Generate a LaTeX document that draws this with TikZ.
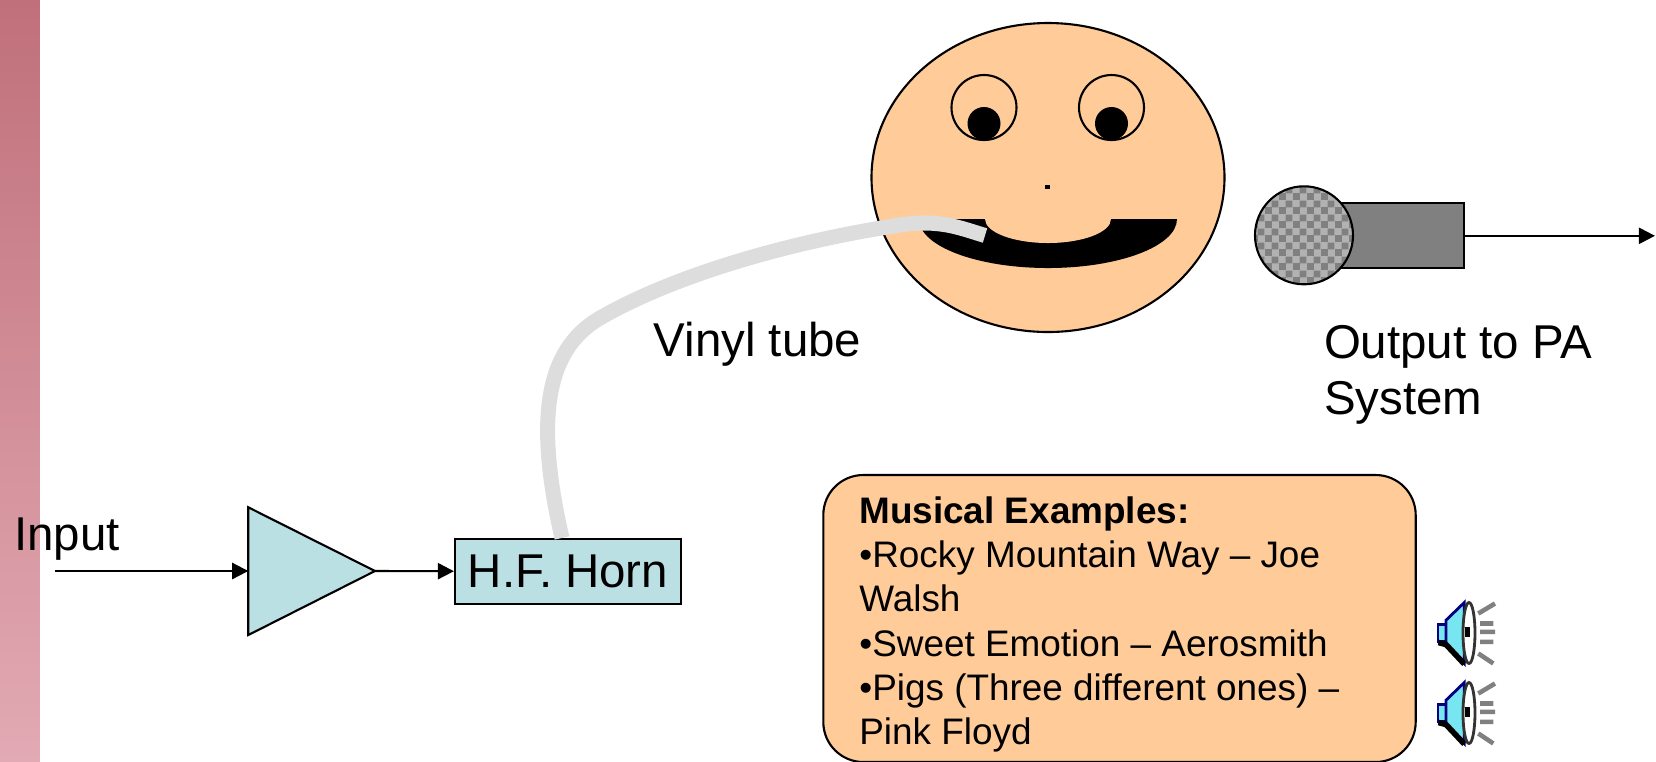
\documentclass[tikz,border=0pt]{standalone}
\usepackage{fontspec}
\setmainfont{Liberation Sans}
\usetikzlibrary{arrows.meta,patterns}

\definecolor{skin}{RGB}{255,204,153}
\definecolor{ampblue}{RGB}{187,224,228}
\definecolor{tubegrey}{RGB}{221,221,221}
\definecolor{stripTop}{RGB}{192,112,122}
\definecolor{stripBot}{RGB}{226,170,180}
\definecolor{micgrey}{RGB}{128,128,128}
\definecolor{miclight}{RGB}{178,178,178}
\definecolor{navy}{RGB}{0,0,128}
\definecolor{conecyan}{RGB}{120,230,240}

% fine checks for the microphone grille
\pgfdeclarepatternformonly{finechecks}{\pgfpointorigin}{\pgfqpoint{4pt}{4pt}}{\pgfqpoint{4pt}{4pt}}{
  \pgfpathrectangle{\pgfpointorigin}{\pgfqpoint{2.05pt}{2.05pt}}
  \pgfpathrectangle{\pgfqpoint{2pt}{2pt}}{\pgfqpoint{2.05pt}{2.05pt}}
  \pgfusepath{fill}}

\tikzset{
  sig/.style={-{Triangle[length=4.6pt,width=4.6pt]}},
  lbl/.style={inner sep=0pt, font=\fontsize{13.5}{15.85}\selectfont},
  hornbox/.style={draw, fill=ampblue, minimum width=2.26cm, minimum height=0.65cm,
    inner sep=0pt, font=\fontsize{13.5}{15.85}\selectfont},
  % little loudspeaker, drawn round its centre
  spkicon/.pic={
    \draw[navy, fill=conecyan, line width=0.8pt] (-0.27,-0.10) rectangle (-0.19,0.067);
    \draw[navy, fill=conecyan, line width=0.8pt]
      (-0.19,-0.143) -- (-0.007,-0.32) -- (-0.007,0.29) -- (-0.19,0.09) -- cycle;
    \draw[black, line width=1.6pt] (-0.265,0.08) -- (-0.19,0.10) -- (-0.007,0.295);
    \draw[black!80, fill=white, line width=0.8pt] (0.04,-0.015) ellipse (0.06cm and 0.305cm);
    \fill[black] (0.0,-0.08) rectangle (0.05,0.02);
    \draw[micgrey, line width=1.3pt]
      (0.133,-0.21) -- (0.30,-0.31)
      (0.15,-0.11) -- (0.283,-0.11)
      (0.15,-0.027) -- (0.30,-0.027)
      (0.15,0.073) -- (0.283,0.073)
      (0.133,0.19) -- (0.283,0.29);
  }
}

\begin{document}
\begin{tikzpicture}[x=1cm,y=-1cm,line width=0.6pt]
  \useasboundingbox (0,0) rectangle (16.56,7.61);
  \shade[top color=stripTop,bottom color=stripBot] (0,0) rectangle (0.40,7.61);

  % the face
  \draw[fill=skin] (10.48,1.775) ellipse (1.765cm and 1.545cm);
  \foreach \ex in {9.84,11.115} {
    \fill (\ex,1.235) circle (0.165cm);
    \draw (\ex,1.075) circle (0.325cm);
  }
  \fill (10.453,1.847) rectangle (10.50,1.893);
  \fill (9.19,2.19) arc[start angle=180,end angle=360,x radius=1.29cm,y radius=0.49cm] -- cycle;
  \fill[skin] (9.85,2.19) arc[start angle=180,end angle=360,x radius=0.63cm,y radius=0.24cm] -- cycle;
  \coordinate (lip) at (9.85,2.355);

  % amplifier and horn
  \node[lbl, anchor=base west] (input) at (0.13,5.50) {Input};
  \coordinate (src) at (0.55,5.71);
  \draw[fill=ampblue] (2.483,5.073) -- (3.75,5.71) -- (2.483,6.35) -- cycle;
  \coordinate (ampin) at (2.483,5.71);
  \coordinate (ampout) at (3.75,5.71);
  \node[hornbox] (horn) at (5.68,5.715) {H.F. Horn};
  \draw[sig] (src) -- (ampin);
  \draw[sig] (ampout) -- (horn);

  \draw[tubegrey, line width=0.15cm] ([xshift=-0.06cm]horn.north)
    .. controls (5.35,4.20) and (5.45,3.50) .. (6.00,3.18)
    .. controls (6.80,2.72) and (8.00,2.40) .. (9.00,2.25)
    .. controls (9.40,2.19) and (9.60,2.28) .. (lip);
  \node[lbl, anchor=base west] (tube) at (6.527,3.56) {Vinyl tube};

  % microphone
  \node[draw, fill=micgrey, minimum width=1.64cm, minimum height=0.65cm, inner sep=0pt]
    (body) at (13.82,2.358) {};
  \node[circle, draw, minimum size=0.98cm, inner sep=0pt, preaction={fill=miclight},
    pattern=finechecks, pattern color=micgrey] (mic) at (13.04,2.353) {};
  \coordinate (pa) at (16.55,2.358);
  \draw[sig] (body) -- (pa);
  \node[lbl, anchor=north west, align=left] (output) at (13.23,3.245) {Output to PA\\System};

  % examples
  \draw[fill=skin, rounded corners=0.4cm] (8.233,4.75) rectangle (14.157,7.62);
  \node[anchor=north west, align=left, inner sep=0pt, font=\fontsize{10.5}{12.6}\selectfont]
    (examples) at (8.583,4.955)
    {\textbf{Musical Examples:}\\•Rocky Mountain Way – Joe\\Walsh\\•Sweet Emotion – Aerosmith\\
     •Pigs (Three different ones) –\\Pink Floyd};
  \pic at (14.65,6.345) {spkicon};
  \pic at (14.65,7.145) {spkicon};
\end{tikzpicture}
\end{document}
